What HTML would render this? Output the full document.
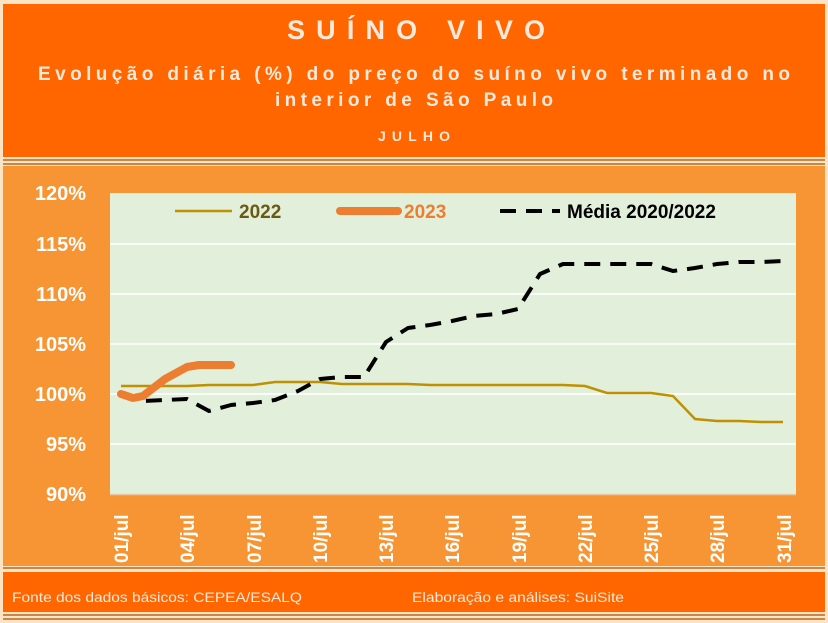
<!DOCTYPE html>
<html><head><meta charset="utf-8"><style>
body{margin:0;width:828px;height:623px;overflow:hidden;background:#F5DEB3;}
svg{display:block}
</style></head><body>
<svg width="828" height="623" xmlns="http://www.w3.org/2000/svg" font-family="Liberation Sans, sans-serif">
<rect width="828" height="623" fill="#FBE3C4"/>
<rect x="3" y="4" width="822" height="153" fill="#FF6600"/>
<rect x="3" y="159" width="822" height="2" fill="#C8874A"/>
<rect x="3" y="163" width="822" height="2" fill="#C8874A"/>
<rect x="3" y="166" width="822" height="400" fill="#F79433"/>
<rect x="3" y="567" width="822" height="2" fill="#C8874A"/>
<rect x="3" y="572" width="822" height="40" fill="#FF6600"/>
<rect x="3" y="614" width="822" height="2" fill="#C8874A"/>
<rect x="3" y="618" width="822" height="2" fill="#C8874A"/>
<g fill="#FBE9DA" text-anchor="middle" font-weight="bold">
<text x="416" y="39" font-size="27" textLength="258" lengthAdjust="spacing">SUÍNO VIVO</text>
<text x="414" y="80" font-size="19" textLength="752" lengthAdjust="spacing">Evolução diária (%) do preço do suíno vivo terminado no</text>
<text x="414" y="106" font-size="19" textLength="278" lengthAdjust="spacing">interior de São Paulo</text>
<text x="414" y="141" font-size="14" textLength="72" lengthAdjust="spacing">JULHO</text>
</g>
<rect x="110" y="193" width="686" height="302" fill="#E2EFDA"/>
<g stroke="#fff" stroke-width="1.5">
<line x1="110" x2="796" y1="244" y2="244"/><line x1="110" x2="796" y1="294" y2="294"/>
<line x1="110" x2="796" y1="344" y2="344"/><line x1="110" x2="796" y1="394" y2="394"/>
<line x1="110" x2="796" y1="444" y2="444"/>
</g>
<line x1="110" x2="796" y1="494.5" y2="494.5" stroke="#E9C9A0" stroke-width="1.5"/>
<g fill="#fff" font-weight="bold" font-size="20" text-anchor="end">
<text x="86" y="200">120%</text><text x="86" y="251">115%</text><text x="86" y="301">110%</text>
<text x="86" y="351">105%</text><text x="86" y="401">100%</text><text x="86" y="451">95%</text><text x="86" y="501">90%</text>
</g>
<g fill="#fff" font-weight="bold" font-size="19">
<text transform="translate(128,563) rotate(-90)">01/jul</text>
<text transform="translate(194,563) rotate(-90)">04/jul</text>
<text transform="translate(261,563) rotate(-90)">07/jul</text>
<text transform="translate(327,563) rotate(-90)">10/jul</text>
<text transform="translate(393,563) rotate(-90)">13/jul</text>
<text transform="translate(459,563) rotate(-90)">16/jul</text>
<text transform="translate(526,563) rotate(-90)">19/jul</text>
<text transform="translate(592,563) rotate(-90)">22/jul</text>
<text transform="translate(658,563) rotate(-90)">25/jul</text>
<text transform="translate(724,563) rotate(-90)">28/jul</text>
<text transform="translate(791,563) rotate(-90)">31/jul</text>
</g>
<!-- legend -->
<line x1="175" x2="232" y1="211" y2="211" stroke="#BF9000" stroke-width="2.5"/>
<text x="239" y="218" font-size="19" font-weight="bold" fill="#6B5A12">2022</text>
<line x1="340" x2="398" y1="211" y2="211" stroke="#ED7D31" stroke-width="8" stroke-linecap="round"/>
<text x="404" y="218" font-size="19" font-weight="bold" fill="#ED7D31">2023</text>
<line x1="500" x2="560" y1="211" y2="211" stroke="#000" stroke-width="4" stroke-dasharray="16,10"/>
<text x="567" y="218" font-size="19" font-weight="bold" fill="#000">Média 2020/2022</text>
<!-- series -->
<polyline fill="none" stroke="#BF9000" stroke-width="2.5" points="121,386 143,386 165,386 187,386 209,385 231,385 253,385 275,382 298,382 320,382 342,384 364,384 386,384 408,384 430,385 452,385 474,385 496,385 518,385 540,385 563,385 585,386 607,393 629,393 651,393 673,396 695,419 717,421 739,421 761,422 783,422"/>
<polyline fill="none" stroke="#000" stroke-width="4" stroke-dasharray="16,10" stroke-linejoin="round" points="121,394 143,401 165,400 187,399 209,411 231,405 253,403 275,400 298,391 320,379 342,377 364,377 386,342 408,328 430,325 452,321 474,316 496,314 518,309 540,274 563,264 585,264 607,264 629,264 651,264 673,271 695,268 717,264 739,262 761,262 783,261"/>
<polyline fill="none" stroke="#ED7D31" stroke-width="8" stroke-linecap="round" stroke-linejoin="round" points="121,394 133,398 143,396 165,379 187,367 199,365 209,365 231,365"/>
<g fill="#FBE9DA" font-size="14">
<text x="12" y="602" textLength="290" lengthAdjust="spacingAndGlyphs">Fonte dos dados básicos: CEPEA/ESALQ</text>
<text x="412" y="602" textLength="212" lengthAdjust="spacingAndGlyphs">Elaboração e análises: SuiSite</text>
</g>
</svg>
</body></html>
